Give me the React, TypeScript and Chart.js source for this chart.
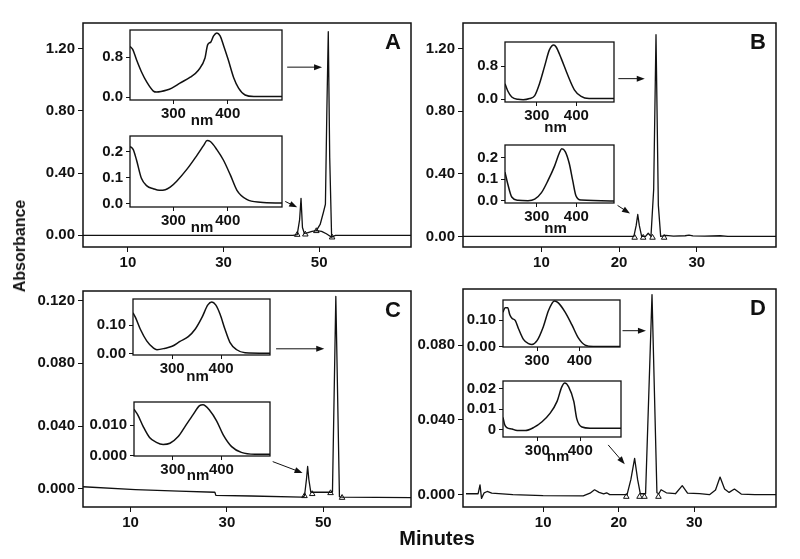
import React, { useEffect, useRef } from "react";
import { Chart, registerables } from "chart.js";

Chart.register(...registerables);

const FONT = '"Liberation Sans", Arial, Helvetica, sans-serif';
const INK = "#111";

// ---------- Chromatograms (minutes, absorbance) ----------
const aTime = [0.6, 44.5, 45.4, 45.9, 46.2, 46.5, 46.9, 47.5, 48.5, 49.4, 50.2, 50.9, 51.3, 51.6, 51.9, 52.2, 52.6, 53.4, 69.2];
const aAbs = [0, 0, 0.005, 0.1, 0.238, 0.05, 0.012, 0.016, 0.025, 0.03, 0.07, 0.15, 0.2, 0.8, 1.31, 0.5, -0.012, 0, 0];
const aHumpTime = [49.4, 50.5, 51.5, 52.6];
const aHumpAbs = [0.03, 0.026, 0.01, -0.012];
const aMarkTime = [45.4, 47.1, 49.4, 52.7];
const aMarkAbs = [0.004, 0.006, 0.028, -0.013];
const aArrows = [[43.3, 1.082, 50.6, 1.082], [42.9, 0.218, 45.4, 0.18]];

const bTime = [-0.1, 21.9, 22.2, 22.4, 22.6, 22.9, 23.4, 23.75, 24.1, 24.45, 24.75, 25.05, 25.35, 26, 27, 28.5, 29, 29.5, 31, 33, 34, 40.2];
const bAbs = [0, 0, 0.07, 0.14, 0.07, 0.0, 0.0, 0.02, 0.0, 0.3, 1.29, 0.2, 0.0, 0.006, 0.002, 0.004, 0.008, 0.003, 0.002, 0.004, 0.0, 0];
const bMarkTime = [22.0, 23.1, 24.3, 25.8];
const bMarkAbs = [-0.008, -0.008, -0.008, -0.008];
const bArrows = [[19.9, 1.009, 23.3, 1.009], [19.8, 0.198, 21.4, 0.146]];

const cTime = [0.13, 11, 20, 27.5, 27.7, 35, 45.5, 46.1, 46.5, 46.75, 47.0, 47.4, 47.7, 51.6, 51.9, 52.6, 53.35, 54.0, 68.2];
const cAbs = [0.0014, -0.0004, -0.0014, -0.0021, -0.0041, -0.0045, -0.0052, -0.0045, 0.006, 0.0143, 0.006, -0.002, -0.0021, -0.0021, -0.002, 0.1225, -0.005, -0.0052, -0.0055];
const cMarkTime = [46.1, 47.7, 51.5, 53.9];
const cMarkAbs = [-0.0045, -0.0032, -0.0026, -0.0056];
const cArrows = [[40.2, 0.0892, 50.2, 0.0892], [39.5, 0.0174, 45.7, 0.0102]];

const dTime = [-0.2, 1.4, 1.65, 1.85, 2.2, 2.6, 3.2, 6, 10, 15.3, 16.2, 16.8, 17.4, 18.0, 18.4, 18.8, 19.5, 21.1, 21.6, 22.1, 22.5, 22.85, 23.55, 24.4, 25.05, 25.3, 25.6, 26.3, 27.5, 28.4, 29.1, 30.7, 32.0, 32.8, 33.4, 34.0, 34.6, 35.3, 36.2, 38, 40.8];
const dAbs = [0.0005, 0.0005, 0.0052, -0.002, 0.001, 0.0017, 0.0008, 0.0, -0.0005, -0.0006, 0.0008, 0.0026, 0.0012, 0.0004, 0.001, 0.0, 0.0, 0.0, 0.008, 0.0194, 0.008, 0.0005, 0.0005, 0.107, 0.001, 0.0005, 0.0026, 0.001, 0.0005, 0.0048, 0.0008, 0.0005, 0.0, 0.0025, 0.0094, 0.003, 0.0012, 0.003, 0.0003, 0.0, 0.0];
const dMarkTime = [21.0, 22.75, 23.4, 25.25];
const dMarkAbs = [-0.0011, -0.0011, -0.0011, -0.0011];
const dArrows = [[20.5, 0.0877, 23.6, 0.0877], [18.6, 0.0266, 20.8, 0.0163]];

// ---------- UV spectra (nm, absorbance) ----------
const aTopNm = [220, 225, 232, 241, 251, 263, 269, 288, 297, 312, 331, 346, 358, 363, 369, 374, 380, 386, 392, 401, 411, 420, 432, 448, 500];
const aTopAbs = [1.02, 0.96, 0.75, 0.51, 0.3, 0.12, 0.1, 0.14, 0.18, 0.28, 0.4, 0.54, 0.78, 1.05, 1.11, 1.23, 1.29, 1.23, 1.05, 0.75, 0.39, 0.18, 0.04, 0.01, 0.01];
const aBotNm = [220, 226, 232, 241, 251, 263, 274, 285, 294, 306, 325, 343, 356, 362, 368, 380, 392, 405, 417, 435, 460, 500];
const aBotAbs = [0.22, 0.208, 0.168, 0.098, 0.069, 0.058, 0.052, 0.054, 0.064, 0.087, 0.133, 0.185, 0.225, 0.243, 0.239, 0.208, 0.168, 0.11, 0.052, 0.017, 0.006, 0.003];
const bTopNm = [220, 227, 237, 253, 266, 282, 295, 307, 320, 332, 343, 349, 362, 378, 395, 412, 432, 495];
const bTopAbs = [0.375, 0.2, 0.057, 0.0, -0.007, 0.02, 0.09, 0.375, 0.8, 1.19, 1.31, 1.26, 0.98, 0.59, 0.23, 0.07, 0.02, 0.02];
const bBotNm = [220, 227, 237, 253, 278, 295, 312, 328, 345, 357, 363, 372, 382, 391, 399, 412, 495];
const bBotAbs = [0.132, 0.078, 0.018, 0.003, 0.001, 0.008, 0.038, 0.092, 0.16, 0.22, 0.24, 0.227, 0.173, 0.092, 0.024, 0.004, 0.0];
const cTopNm = [220, 225, 235, 248, 262, 269, 286, 300, 316, 333, 347, 361, 373, 381, 389, 398, 408, 418, 432, 449, 500];
const cTopAbs = [0.144, 0.128, 0.086, 0.045, 0.019, 0.0135, 0.019, 0.026, 0.043, 0.06, 0.086, 0.128, 0.172, 0.182, 0.172, 0.139, 0.086, 0.04, 0.0135, 0.003, 0.001];
const cBotNm = [220, 228, 239, 252, 266, 280, 294, 311, 325, 342, 355, 362, 376, 390, 404, 421, 441, 469, 500];
const cBotAbs = [0.0152, 0.0133, 0.0095, 0.0059, 0.0043, 0.0036, 0.004, 0.0062, 0.0095, 0.0135, 0.0164, 0.0167, 0.0148, 0.0114, 0.0067, 0.0029, 0.001, 0.0004, 0.0004];
const dTopNm = [220, 225, 231, 236, 241, 249, 257, 268, 280, 288, 300, 315, 327, 341, 350, 366, 382, 397, 413, 432, 495];
const dTopAbs = [0.13, 0.147, 0.147, 0.12, 0.107, 0.098, 0.065, 0.027, 0.011, 0.0076, 0.022, 0.076, 0.136, 0.172, 0.165, 0.13, 0.0815, 0.0326, 0.0054, 0.0, 0.0];
const dBotNm = [220, 224, 229, 241, 253, 272, 291, 311, 330, 346, 357, 364, 373, 385, 392, 404, 423, 495];
const dBotAbs = [0.006, 0.0024, 0.001, 0.0003, -0.0004, -0.0004, 0.001, 0.0039, 0.0081, 0.0139, 0.021, 0.0229, 0.021, 0.0139, 0.0053, 0.0013, 0.0007, 0.0007];

// ---------- Tick values and labels ----------
const minTicksWide = [10, 30, 50];
const minTicksNarrow = [10, 20, 30];
const abTicksHigh = [0, 0.4, 0.8, 1.2];
const abLabelsHigh = ["0.00", "0.40", "0.80", "1.20"];
const cAbTicks = [0, 0.04, 0.08, 0.12];
const cAbLabels = ["0.000", "0.040", "0.080", "0.120"];
const dAbTicks = [0, 0.04, 0.08];
const dAbLabels = ["0.000", "0.040", "0.080"];
const nmTicks = [300, 400];
const nmLabels = ["300", "400"];
const insTopTicks = [0, 0.8];
const insTopLabels = ["0.0", "0.8"];
const insBotTicks = [0, 0.1, 0.2];
const insBotLabels = ["0.0", "0.1", "0.2"];
const cTopTicks = [0, 0.1];
const cTopLabels = ["0.00", "0.10"];
const cBotTicks = [0, 0.01];
const cBotLabels = ["0.000", "0.010"];
const dBotTicks = [0, 0.01, 0.02];
const dBotLabels = ["0", "0.01", "0.02"];

type Frame = [number, number, number, number];

interface Spec {
  frame: Frame;
  yAxisW: number;
  xAxisH: number;
  xRange: [number, number];
  yRange: [number, number];
  xTicks: number[];
  xLabels: string[];
  yTicks: number[];
  yLabels: string[];
  lines: { x: number[]; y: number[]; width: number; smooth?: boolean }[];
  markers?: { x: number[]; y: number[] };
  arrows?: number[][];
  letter?: string;
  nm?: boolean;
  nmDy?: number;
  inset?: boolean;
  fontSize: number;
}

const decorPlugin = {
  id: "decor",
  beforeDatasetsDraw(chart: any, _args: any, opts: any) {
    if (!opts.fillWhite) return;
    const { ctx, chartArea: a } = chart;
    ctx.save();
    ctx.fillStyle = "#fff";
    ctx.fillRect(a.left, a.top, a.right - a.left, a.bottom - a.top);
    ctx.restore();
  },
  afterDatasetsDraw(chart: any, _args: any, opts: any) {
    const { ctx, chartArea: a, scales } = chart;
    ctx.save();
    ctx.strokeStyle = INK;
    ctx.lineWidth = opts.frameWidth;
    ctx.strokeRect(a.left, a.top, a.right - a.left, a.bottom - a.top);
    ctx.fillStyle = INK;
    ctx.lineWidth = 1;
    (opts.arrows || []).forEach((ar: number[]) => {
      const x0 = scales.x.getPixelForValue(ar[0]);
      const y0 = scales.y.getPixelForValue(ar[1]);
      const x1 = scales.x.getPixelForValue(ar[2]);
      const y1 = scales.y.getPixelForValue(ar[3]);
      const ang = Math.atan2(y1 - y0, x1 - x0);
      const L = 8;
      const W = 3;
      const c = Math.cos(ang);
      const s = Math.sin(ang);
      ctx.beginPath();
      ctx.moveTo(x0, y0);
      ctx.lineTo(x1 - L * c * 0.6, y1 - L * s * 0.6);
      ctx.stroke();
      ctx.beginPath();
      ctx.moveTo(x1, y1);
      ctx.lineTo(x1 - L * c + W * s, y1 - L * s - W * c);
      ctx.lineTo(x1 - L * c - W * s, y1 - L * s + W * c);
      ctx.closePath();
      ctx.fill();
    });
    if (opts.letter) {
      ctx.font = `bold 22px ${FONT}`;
      ctx.textAlign = "right";
      ctx.textBaseline = "alphabetic";
      ctx.fillText(opts.letter, a.right - 10, a.top + 26);
    }
    if (opts.nm) {
      ctx.font = `bold 15px ${FONT}`;
      ctx.textAlign = "center";
      ctx.textBaseline = "middle";
      ctx.fillText("nm", (a.left + a.right) / 2 - 4, a.bottom + (opts.nmDy || 22));
    }
    ctx.restore();
  },
};

const PAD = 4;

function Plot({ spec }: { spec: Spec }) {
  const ref = useRef<HTMLCanvasElement>(null);
  const [l, t, r, b] = spec.frame;
  const left = l - spec.yAxisW;
  const top = t - PAD;
  const width = r - l + spec.yAxisW + PAD;
  const height = b - t + PAD + spec.xAxisH;

  useEffect(() => {
    if (!ref.current) return;
    const font = { family: FONT, size: spec.fontSize, weight: "bold" as const };
    const tickLen = spec.inset ? 4 : 5;
    const datasets: any[] = spec.lines.map((ln) => ({
      data: ln.x.map((x, i) => ({ x, y: ln.y[i] })),
      borderColor: INK,
      borderWidth: ln.width,
      pointRadius: 0,
      fill: false,
      tension: ln.smooth ? 0.4 : 0,
      cubicInterpolationMode: ln.smooth ? "monotone" : "default",
      borderJoinStyle: "round",
    }));
    if (spec.markers) {
      const m = spec.markers;
      datasets.push({
        data: m.x.map((x, i) => ({ x, y: m.y[i] })),
        showLine: false,
        pointStyle: "triangle",
        pointRadius: 3.2,
        borderColor: INK,
        backgroundColor: "#fff",
        pointBorderWidth: 1,
      });
    }
    const chart = new Chart(ref.current, {
      type: "line",
      data: { datasets },
      plugins: [decorPlugin as any],
      options: {
        animation: false,
        responsive: false,
        devicePixelRatio: 1,
        layout: { padding: { left: 0, top: PAD, right: PAD, bottom: 0 } },
        plugins: {
          legend: { display: false },
          tooltip: { enabled: false },
          decor: {
            fillWhite: !!spec.inset,
            frameWidth: spec.inset ? 1.3 : 1.5,
            arrows: spec.arrows,
            letter: spec.letter,
            nm: spec.nm,
            nmDy: spec.nmDy,
          },
        } as any,
        scales: {
          x: {
            type: "linear",
            min: spec.xRange[0],
            max: spec.xRange[1],
            afterFit: (s: any) => {
              s.height = spec.xAxisH;
            },
            afterBuildTicks: (s: any) => {
              s.ticks = spec.xTicks.map((v) => ({ value: v }));
            },
            ticks: {
              callback: (_v: any, i: number) => spec.xLabels[i],
              font,
              color: INK,
              padding: spec.inset ? 1 : 2,
              autoSkip: false,
              maxRotation: 0,
            },
            grid: {
              display: true,
              drawOnChartArea: false,
              drawTicks: true,
              tickLength: tickLen,
              color: INK,
              lineWidth: 1,
            },
            border: { display: false },
          },
          y: {
            type: "linear",
            min: spec.yRange[0],
            max: spec.yRange[1],
            afterFit: (s: any) => {
              s.width = spec.yAxisW;
            },
            afterBuildTicks: (s: any) => {
              s.ticks = spec.yTicks.map((v) => ({ value: v }));
            },
            ticks: {
              callback: (_v: any, i: number) => spec.yLabels[i],
              font,
              color: INK,
              padding: 3,
              autoSkip: false,
            },
            grid: {
              display: true,
              drawOnChartArea: false,
              drawTicks: true,
              tickLength: tickLen,
              color: INK,
              lineWidth: 1,
            },
            border: { display: false },
          },
        },
      } as any,
    });
    return () => chart.destroy();
  }, []);

  return (
    <canvas
      ref={ref}
      width={width}
      height={height}
      style={{ position: "absolute", left, top, width, height }}
    />
  );
}

const mainSpecs: Spec[] = [
  {
    frame: [83, 15, 412, 247], yAxisW: 70, xAxisH: 30,
    xRange: [0.6, 69.2], yRange: [-0.075, 1.366],
    xTicks: minTicksWide, xLabels: minTicksWide.map(String),
    yTicks: abTicksHigh, yLabels: abLabelsHigh,
    lines: [{ x: aTime, y: aAbs, width: 1.3 }, { x: aHumpTime, y: aHumpAbs, width: 1.3 }],
    markers: { x: aMarkTime, y: aMarkAbs }, arrows: aArrows, letter: "A", fontSize: 15,
  },
  {
    frame: [463, 15, 777, 247], yAxisW: 70, xAxisH: 30,
    xRange: [-0.1, 40.2], yRange: [-0.068, 1.365],
    xTicks: minTicksNarrow, xLabels: minTicksNarrow.map(String),
    yTicks: abTicksHigh, yLabels: abLabelsHigh,
    lines: [{ x: bTime, y: bAbs, width: 1.3 }],
    markers: { x: bMarkTime, y: bMarkAbs }, arrows: bArrows, letter: "B", fontSize: 15,
  },
  {
    frame: [83, 283, 412, 507], yAxisW: 80, xAxisH: 30,
    xRange: [0.13, 68.2], yRange: [-0.0115, 0.126],
    xTicks: minTicksWide, xLabels: minTicksWide.map(String),
    yTicks: cAbTicks, yLabels: cAbLabels,
    lines: [{ x: cTime, y: cAbs, width: 1.3 }],
    markers: { x: cMarkTime, y: cMarkAbs }, arrows: cArrows, letter: "C", fontSize: 15,
  },
  {
    frame: [463, 281, 777, 507], yAxisW: 80, xAxisH: 30,
    xRange: [-0.6, 40.8], yRange: [-0.0066, 0.11],
    xTicks: minTicksNarrow, xLabels: minTicksNarrow.map(String),
    yTicks: dAbTicks, yLabels: dAbLabels,
    lines: [{ x: dTime, y: dAbs, width: 1.3 }],
    markers: { x: dMarkTime, y: dMarkAbs }, arrows: dArrows, letter: "D", fontSize: 15,
  },
];

const insetBase = { yAxisW: 52, xAxisH: 34, inset: true, fontSize: 15, xTicks: nmTicks, xLabels: nmLabels };

const insetSpecs: Spec[] = [
  { ...insetBase, frame: [130, 22, 282, 100], xRange: [220, 500], yRange: [-0.06, 1.35], yTicks: insTopTicks, yLabels: insTopLabels, lines: [{ x: aTopNm, y: aTopAbs, width: 1.5, smooth: true }], nm: true, nmDy: 21 },
  { ...insetBase, frame: [130, 128, 282, 207], xRange: [220, 500], yRange: [-0.012, 0.26], yTicks: insBotTicks, yLabels: insBotLabels, lines: [{ x: aBotNm, y: aBotAbs, width: 1.5, smooth: true }], nm: true, nmDy: 21 },
  { ...insetBase, frame: [505, 34, 614, 102], xRange: [220, 495], yRange: [-0.064, 1.38], yTicks: insTopTicks, yLabels: insTopLabels, lines: [{ x: bTopNm, y: bTopAbs, width: 1.5, smooth: true }], nm: true, nmDy: 26 },
  { ...insetBase, frame: [505, 137, 614, 203], xRange: [220, 495], yRange: [-0.0095, 0.257], yTicks: insBotTicks, yLabels: insBotLabels, lines: [{ x: bBotNm, y: bBotAbs, width: 1.5, smooth: true }], nm: true, nmDy: 26 },
  { ...insetBase, frame: [133, 291, 270, 355], xRange: [220, 500], yRange: [-0.005, 0.193], yTicks: cTopTicks, yLabels: cTopLabels, lines: [{ x: cTopNm, y: cTopAbs, width: 1.5, smooth: true }], nm: true, nmDy: 22 },
  { ...insetBase, frame: [134, 394, 270, 456], xRange: [220, 500], yRange: [-0.0002, 0.0176], yTicks: cBotTicks, yLabels: cBotLabels, lines: [{ x: cBotNm, y: cBotAbs, width: 1.5, smooth: true }], nm: true, nmDy: 20 },
  { ...insetBase, frame: [503, 292, 620, 347], xRange: [220, 495], yRange: [-0.002, 0.176], yTicks: cTopTicks, yLabels: cTopLabels, lines: [{ x: dTopNm, y: dTopAbs, width: 1.5, smooth: true }], nm: false },
  { ...insetBase, frame: [503, 373, 621, 437], xRange: [220, 495], yRange: [-0.0036, 0.0239], yTicks: dBotTicks, yLabels: dBotLabels, lines: [{ x: dBotNm, y: dBotAbs, width: 1.5, smooth: true }], nm: true, nmDy: 20 },
];

export default function App() {
  return (
    <div style={{ position: "absolute", left: 0, top: 0, width: 800, height: 559, background: "#fff", overflow: "hidden" }}>
      {mainSpecs.map((s, i) => (
        <Plot key={"m" + i} spec={s} />
      ))}
      {insetSpecs.map((s, i) => (
        <Plot key={"i" + i} spec={s} />
      ))}
      <div
        style={{
          position: "absolute", left: 20, top: 246,
          transform: "translate(-50%, -50%) rotate(-90deg)",
          font: `bold 16px ${FONT}`, color: INK, whiteSpace: "nowrap",
        }}
      >
        Absorbance
      </div>
      <div
        style={{
          position: "absolute", left: 437, top: 538,
          transform: "translate(-50%, -50%)",
          font: `bold 20px ${FONT}`, color: INK, whiteSpace: "nowrap",
        }}
      >
        Minutes
      </div>
    </div>
  );
}
